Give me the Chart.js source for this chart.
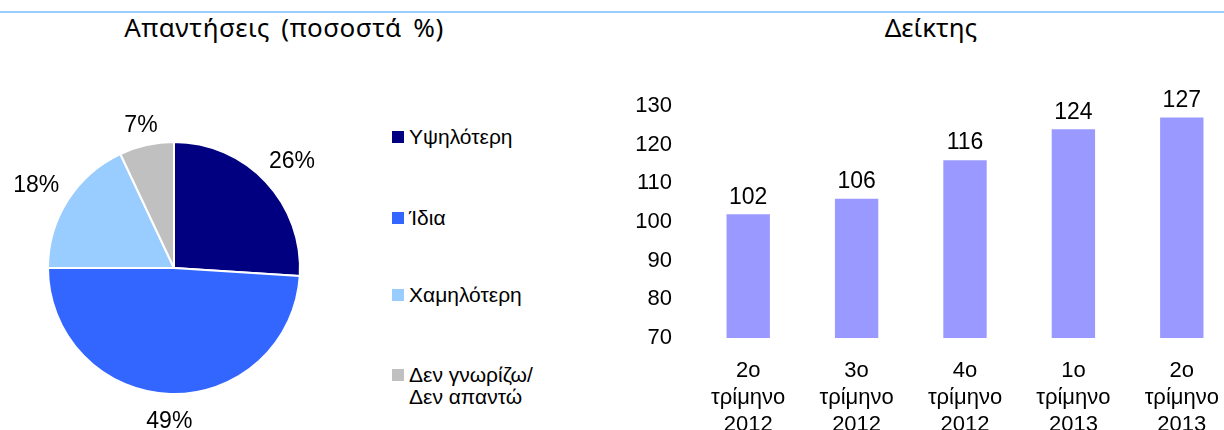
<!DOCTYPE html>
<html>
<head>
<meta charset="utf-8">
<script src="https://cdn.jsdelivr.net/npm/chart.js@4.4.1/dist/chart.umd.min.js"></script>
<style>
  body { margin: 0; width: 1224px; height: 430px; overflow: hidden; position: relative; background: #fff;
         font-family: Arial, "Liberation Sans", sans-serif; color: #000; }
  #topline { position: absolute; left: 0; top: 11px; width: 1224px; height: 2px; background: #99ccff; }
  .title { position: absolute; top: 9px; font-family: "Noto Sans", sans-serif; font-size: 26px; line-height: 36px;
           white-space: nowrap; transform: translateX(-50%); }
  #pieBox { position: absolute; left: 0; top: 0; }
  #barBox { position: absolute; left: 612px; top: 0; }
  #legend { position: absolute; left: 392px; top: 0; }
  .item { position: absolute; left: 0; font-size: 21px; line-height: 22px; white-space: nowrap; }
  .box { position: absolute; left: 0; width: 12px; height: 12px; }
  .item span { position: absolute; left: 17px; top: 0; }
</style>
</head>
<body>
<div id="topline"></div>
<div class="title" style="left:284px; word-spacing:4px; letter-spacing:0.6px">Απαντήσεις (ποσοστά %)</div>
<div class="title" style="left:931px">Δείκτης</div>
<canvas id="pieBox" width="380" height="430"></canvas>
<div id="legend"></div>
<canvas id="barBox" width="640" height="430"></canvas>

<script>
// pie data
const answerLabels = ['Υψηλότερη', 'Ίδια', 'Χαμηλότερη', ['Δεν γνωρίζω/', 'Δεν απαντώ']];
const answerShares = [26, 49, 18, 7];
const answerColors = ['#000080', '#3366ff', '#99ccff', '#c0c0c0'];

// bar data
const quarterLabels = [
  ['2ο', 'τρίμηνο', '2012'],
  ['3ο', 'τρίμηνο', '2012'],
  ['4ο', 'τρίμηνο', '2012'],
  ['1ο', 'τρίμηνο', '2013'],
  ['2ο', 'τρίμηνο', '2013']
];
const indexValues = [102, 106, 116, 124, 127];

Chart.defaults.font.family = 'Arial, "Liberation Sans", sans-serif';
Chart.defaults.color = '#000';

// legend (html)
const legendTops = [126, 207, 284, 364];
const legend = document.getElementById('legend');
answerLabels.forEach((lab, i) => {
  const div = document.createElement('div');
  div.className = 'item';
  div.style.top = legendTops[i] + 'px';
  const box = document.createElement('div');
  box.className = 'box';
  box.style.top = '5px';
  box.style.background = answerColors[i];
  const txt = document.createElement('span');
  txt.innerHTML = Array.isArray(lab) ? lab.join('<br>') : lab;
  div.appendChild(box);
  div.appendChild(txt);
  legend.appendChild(div);
});

// labels outside the pie slices
const pieLabels = {
  id: 'pieLabels',
  afterDatasetsDraw(chart) {
    const ctx = chart.ctx;
    const meta = chart.getDatasetMeta(0);
    ctx.save();
    ctx.font = '23px Arial, "Liberation Sans", sans-serif';
    ctx.fillStyle = '#000';
    ctx.textAlign = 'center';
    ctx.textBaseline = 'middle';
    meta.data.forEach((arc, i) => {
      const p = arc.getProps(['x', 'y', 'startAngle', 'endAngle', 'outerRadius'], true);
      const mid = (p.startAngle + p.endAngle) / 2;
      const ux = Math.cos(mid), uy = Math.sin(mid);
      const text = answerShares[i] + '%';
      const w = ctx.measureText(text).width, h = 18;
      const d = p.outerRadius + 13 + Math.abs(ux) * w / 2 + Math.abs(uy) * h / 2;
      ctx.fillText(text, p.x + ux * d, p.y + uy * d + 5);
    });
    ctx.restore();
  }
};

new Chart(document.getElementById('pieBox'), {
  type: 'pie',
  data: {
    labels: answerLabels,
    datasets: [{
      data: answerShares,
      backgroundColor: answerColors,
      borderColor: '#fff',
      borderWidth: 2
    }]
  },
  options: {
    responsive: false,
    animation: false,
    layout: { padding: { left: 47, right: 79, top: 141, bottom: 35 } },
    plugins: { legend: { display: false }, tooltip: { enabled: false } }
  },
  plugins: [pieLabels]
});

// values above bars
const barValues = {
  id: 'barValues',
  afterDatasetsDraw(chart) {
    const ctx = chart.ctx;
    ctx.save();
    ctx.font = '23px Arial, "Liberation Sans", sans-serif';
    ctx.fillStyle = '#000';
    ctx.textAlign = 'center';
    ctx.textBaseline = 'middle';
    chart.getDatasetMeta(0).data.forEach((bar, i) => {
      ctx.fillText(indexValues[i], bar.x, bar.y - 17);
    });
    ctx.restore();
  }
};

new Chart(document.getElementById('barBox'), {
  type: 'bar',
  data: {
    labels: quarterLabels,
    datasets: [{
      data: indexValues,
      backgroundColor: '#9999ff',
      barPercentage: 0.8,
      categoryPercentage: 0.5
    }]
  },
  options: {
    responsive: false,
    animation: false,
    layout: { padding: { left: 0, right: 16, top: 106, bottom: 0 } },
    plugins: { legend: { display: false }, tooltip: { enabled: false } },
    scales: {
      x: {
        grid: { display: false },
        border: { display: false },
        ticks: { font: { size: 22, lineHeight: 1.23 }, padding: 11, maxRotation: 0, autoSkip: false },
        afterFit: s => { s.height = 92; }
      },
      y: {
        min: 70,
        max: 130,
        grid: { display: false },
        border: { display: false },
        ticks: { stepSize: 10, font: { size: 22 }, padding: 14 },
        afterFit: s => { s.width = 82; }
      }
    }
  },
  plugins: [barValues]
});
</script>
</body>
</html>
